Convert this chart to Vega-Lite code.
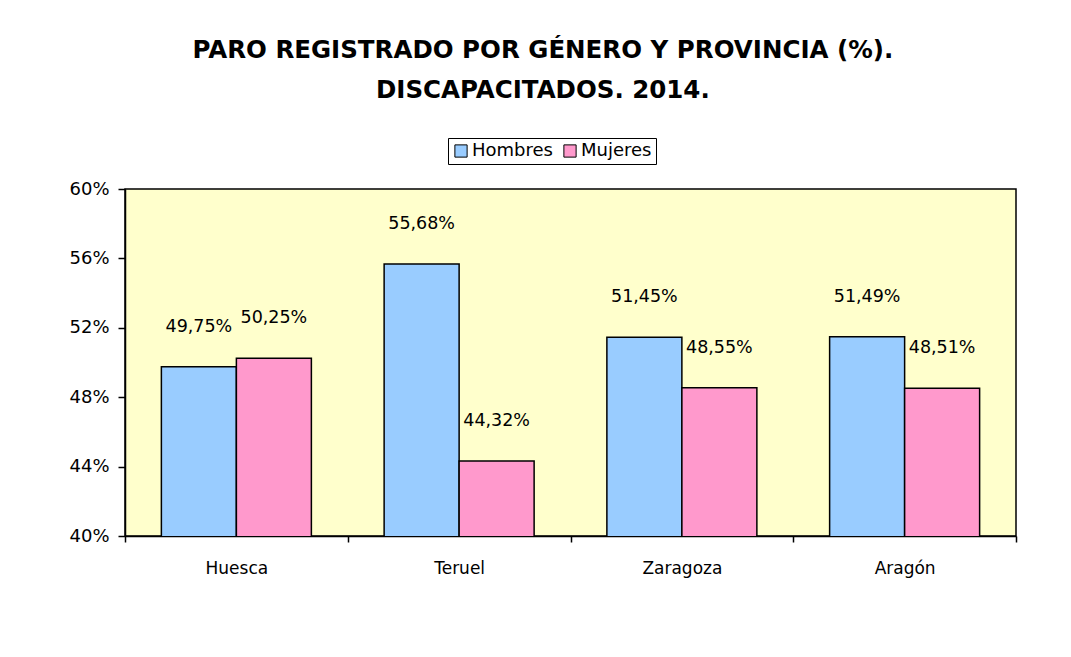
{
  "$schema": "https://vega.github.io/schema/vega-lite/v6.json",
  "width": 891,
  "height": 347,
  "autosize": "none",
  "padding": {"left": 125, "top": 189, "right": 55, "bottom": 121},
  "background": "white",
  "config": {
    "locale": {"number": {"decimal": ",", "thousands": ".", "grouping": [3], "currency": ["", " €"]}},
    "view": {"fill": "#FFFFCC", "stroke": "black", "strokeWidth": 1.5},
    "font": "DejaVu Sans"
  },
  "title": {
    "text": ["PARO REGISTRADO POR GÉNERO Y PROVINCIA (%).", "DISCAPACITADOS. 2014."],
    "fontSize": 24.5,
    "fontWeight": "bold",
    "font": "DejaVu Sans",
    "color": "black",
    "lineHeight": 40,
    "anchor": "middle",
    "frame": "bounds",
    "offset": 34
  },
  "data": {
    "values": [
      {"provincia": "Huesca", "genero": "Hombres", "valor": 0.4975},
      {"provincia": "Huesca", "genero": "Mujeres", "valor": 0.5025},
      {"provincia": "Teruel", "genero": "Hombres", "valor": 0.5568},
      {"provincia": "Teruel", "genero": "Mujeres", "valor": 0.4432},
      {"provincia": "Zaragoza", "genero": "Hombres", "valor": 0.5145},
      {"provincia": "Zaragoza", "genero": "Mujeres", "valor": 0.4855},
      {"provincia": "Aragón", "genero": "Hombres", "valor": 0.5149},
      {"provincia": "Aragón", "genero": "Mujeres", "valor": 0.4851}
    ]
  },
  "encoding": {
    "x": {
      "field": "provincia",
      "type": "nominal",
      "sort": ["Huesca", "Teruel", "Zaragoza", "Aragón"],
      "scale": {"paddingInner": 0, "paddingOuter": 0},
      "axis": {
        "title": null,
        "labelAngle": 0,
        "tickBand": "extent",
        "labelFontSize": 17,
        "labelPadding": 18,
        "labelColor": "black",
        "tickSize": 6,
        "tickColor": "black",
        "tickWidth": 1.5,
        "domainColor": "black",
        "domainWidth": 1.5
      }
    },
    "xOffset": {
      "field": "genero",
      "sort": ["Hombres", "Mujeres"],
      "scale": {"paddingOuter": 0.485, "paddingInner": 0}
    },
    "y": {
      "field": "valor",
      "type": "quantitative",
      "scale": {"domain": [0.4, 0.6], "zero": false, "nice": false},
      "axis": {
        "title": null,
        "values": [0.4, 0.44, 0.48, 0.52, 0.56, 0.6],
        "format": ".0%",
        "grid": false,
        "labelFontSize": 18,
        "labelColor": "black",
        "labelPadding": 9,
        "tickSize": 7,
        "tickColor": "black",
        "tickWidth": 1.5,
        "domainColor": "black",
        "domainWidth": 1.5
      }
    }
  },
  "layer": [
    {
      "mark": {"type": "bar", "stroke": "black", "strokeWidth": 1.5, "clip": true},
      "encoding": {
        "color": {
          "field": "genero",
          "type": "nominal",
          "sort": ["Hombres", "Mujeres"],
          "scale": {"domain": ["Hombres", "Mujeres"], "range": ["#99CCFF", "#FF99CC"]},
          "legend": {
            "title": null,
            "orient": "none",
            "legendX": 323,
            "legendY": -51,
            "direction": "horizontal",
            "symbolType": "square",
            "symbolSize": 150,
            "symbolStrokeColor": "black",
            "symbolStrokeWidth": 1,
            "symbolOpacity": 1,
            "labelFontSize": 18,
            "labelColor": "black",
            "labelOffset": 2,
            "columnPadding": 8,
            "strokeColor": "black",
            "fillColor": "white",
            "padding": 4
          }
        }
      }
    },
    {
      "mark": {"type": "text", "dy": -40, "fontSize": 17.5, "color": "black", "baseline": "middle"},
      "encoding": {
        "text": {"field": "valor", "type": "quantitative", "format": ".2%"}
      }
    }
  ]
}
